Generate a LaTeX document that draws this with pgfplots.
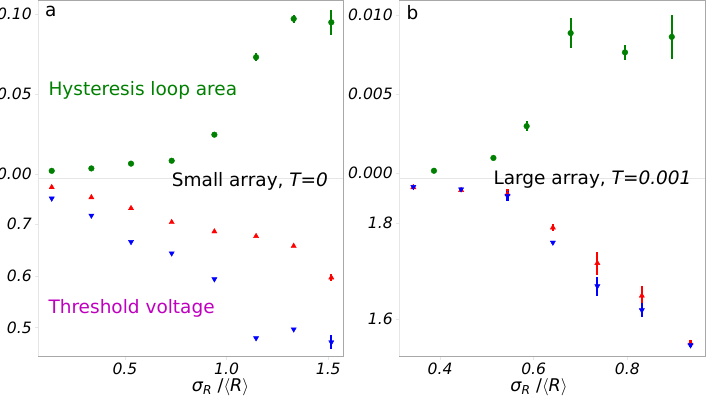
\documentclass[border=0pt]{standalone}
\usepackage{pgfplots}
\pgfplotsset{compat=1.18}
\usepackage{fontspec}
\setmainfont{DejaVu Sans}
\definecolor{mgreen}{HTML}{008000}
\definecolor{mmag}{HTML}{BF00BF}
\definecolor{spine}{HTML}{A8A8A8}
\definecolor{faint}{HTML}{E6E6E6}

\pgfplotsset{
  panel/.style={scale only axis, clip=false, axis line style={draw=none},
    tick align=outside, major tick length=3bp, tick style={faint, line width=0.8bp},
    xtick pos=left, ytick pos=left,
    tick label style={font=\fontsize{15.6bp}{18bp}\selectfont\itshape},
    /pgf/number format/assume math mode=true,
    every error bar/.append style={line width=2.2bp}},
  gpt/.style={only marks, mark=*, mark size=2.85bp, color=mgreen, mark options={draw=mgreen, fill=mgreen}},
  rpt/.style={only marks, mark=triangle*, mark size=3bp, color=red, mark options={draw=red, fill=red}},
  bpt/.style={only marks, mark=triangle*, mark size=3bp, color=blue, mark options={rotate=180, draw=blue, fill=blue}},
}
\newcommand{\bigtxt}{\fontsize{18.5bp}{22bp}\selectfont}
\newcommand{\xlab}{\fontsize{17.5bp}{20bp}\selectfont{\itshape σ\textsubscript{R}} /$\langle${\itshape R}$\rangle$}

\begin{document}
\begin{tikzpicture}
\path[use as bounding box] (0,0) rectangle (706bp,396bp);

% panel a, loop area
\begin{axis}[panel, at={(38.3bp,217bp)}, anchor=south west, width=305bp, height=179bp,
  xmin=0.074, xmax=1.574, ymin=-0.0031, ymax=0.10875, xtick=\empty,
  ytick={0,0.05,0.1}, yticklabels={0.00,0.05,0.10}]
\addplot[gpt, error bars/.cd, y dir=both, y explicit, error mark=none,
  error bar style={line width=2.2bp, draw=mgreen}] coordinates {
  (0.14,0.0020) +- (0,0) (0.335,0.0035) +- (0,0) (0.53,0.0065) +- (0,0)
  (0.73,0.0083) +- (0,0) (0.94,0.0246) +- (0,0.0005) (1.145,0.073) +- (0,0.0025)
  (1.33,0.097) +- (0,0.0024) (1.515,0.0948) +- (0,0.008)};
\end{axis}

% panel a, threshold
\begin{axis}[panel, at={(38.3bp,39.3bp)}, anchor=south west, width=305bp, height=177.7bp,
  xmin=0.074, xmax=1.574, ymin=0.444, ymax=0.7876,
  xtick={0.5,1,1.5}, xticklabels={0.5,1.0,1.5},
  ytick={0.5,0.6,0.7}, yticklabels={0.5,0.6,0.7}]
\addplot[rpt, error bars/.cd, y dir=both, y explicit, error mark=none,
  error bar style={line width=2.2bp, draw=red}] coordinates {
  (0.14,0.7716) +- (0,0) (0.335,0.752) +- (0,0) (0.53,0.731) +- (0,0)
  (0.73,0.704) +- (0,0) (0.94,0.686) +- (0,0) (1.145,0.677) +- (0,0)
  (1.33,0.658) +- (0,0) (1.515,0.597) +- (0,0.006)};
\addplot[bpt, error bars/.cd, y dir=both, y explicit, error mark=none,
  error bar style={line width=2.2bp, draw=blue}] coordinates {
  (0.14,0.750) +- (0,0) (0.335,0.717) +- (0,0) (0.53,0.666) +- (0,0)
  (0.73,0.644) +- (0,0) (0.94,0.594) +- (0,0) (1.145,0.480) +- (0,0)
  (1.33,0.497) +- (0,0) (1.515,0.472) +- (0,0.013)};
\end{axis}

% panel b, loop area
\begin{axis}[panel, at={(399.3bp,217bp)}, anchor=south west, width=306.2bp, height=179bp,
  xmin=0.313, xmax=0.967, ymin=-0.00036, ymax=0.01095, xtick=\empty,
  ytick={0,0.005,0.01}, yticklabels={0.000,0.005,0.010}]
\addplot[gpt, error bars/.cd, y dir=both, y explicit, error mark=none,
  error bar style={line width=2.2bp, draw=mgreen}] coordinates {
  (0.387,0.00016) +- (0,0) (0.514,0.00097) +- (0,0) (0.585,0.00298) +- (0,0.0003)
  (0.679,0.00886) +- (0,0.00095) (0.795,0.00764) +- (0,0.00047) (0.895,0.00862) +- (0,0.0014)};
\end{axis}

% panel b, threshold
\begin{axis}[panel, at={(399.3bp,39.3bp)}, anchor=south west, width=306.2bp, height=177.7bp,
  xmin=0.313, xmax=0.967, ymin=1.522, ymax=1.8923,
  xtick={0.4,0.6,0.8}, xticklabels={0.4,0.6,0.8},
  ytick={1.6,1.8}, yticklabels={1.6,1.8}]
\addplot[rpt, error bars/.cd, y dir=both, y explicit, error mark=none,
  error bar style={line width=2.2bp, draw=red}] coordinates {
  (0.343,1.875) +- (0,0) (0.445,1.869) +- (0,0) (0.544,1.861) +- (0,0.01)
  (0.641,1.791) +- (0,0.008) (0.736,1.717) +- (0,0.024) (0.831,1.649) +- (0,0.021)
  (0.935,1.550) +- (0,0.006)};
\addplot[bpt, error bars/.cd, y dir=both, y explicit, error mark=none,
  error bar style={line width=2.2bp, draw=blue}] coordinates {
  (0.343,1.876) +- (0,0) (0.445,1.871) +- (0,0) (0.544,1.857) +- (0,0.01)
  (0.641,1.760) +- (0,0.004) (0.736,1.669) +- (0,0.02) (0.831,1.619) +- (0,0.015)
  (0.935,1.546) +- (0,0.004)};
\end{axis}

% frames
\foreach \xl/\xr in {38.3/343.3, 399.3/705.5} {
  \draw[faint, line width=1bp] (\xl bp,39.3bp) -- (\xl bp,396bp);
  \draw[faint, line width=1bp] (\xl bp,217bp) -- (\xr bp,217bp);
  \draw[spine, line width=1.2bp] (\xl bp,395.5bp) -- (\xr bp,395.5bp) -- (\xr bp,39.3bp) -- (\xl bp,39.3bp);
}

% texts
\node[anchor=base west, inner sep=0pt] at (45bp,379bp) {\bigtxt a};
\node[anchor=base west, inner sep=0pt] at (406.5bp,376bp) {\bigtxt b};
\node[anchor=base west, inner sep=0pt, text=mgreen] at (48.3bp,300bp) {\bigtxt Hysteresis loop area};
\node[anchor=base west, inner sep=0pt, text=mmag] at (48.3bp,82bp) {\bigtxt Threshold voltage};
\node[anchor=base west, inner sep=0pt] at (171.7bp,209.3bp) {\bigtxt Small array, {\itshape T=0}};
\node[anchor=base west, inner sep=0pt] at (493.3bp,211bp) {\bigtxt Large array, {\itshape T=0.001}};
\node[anchor=base, inner sep=0pt] at (220.5bp,5bp) {\xlab};
\node[anchor=base, inner sep=0pt] at (539bp,5bp) {\xlab};
\end{tikzpicture}
\end{document}
